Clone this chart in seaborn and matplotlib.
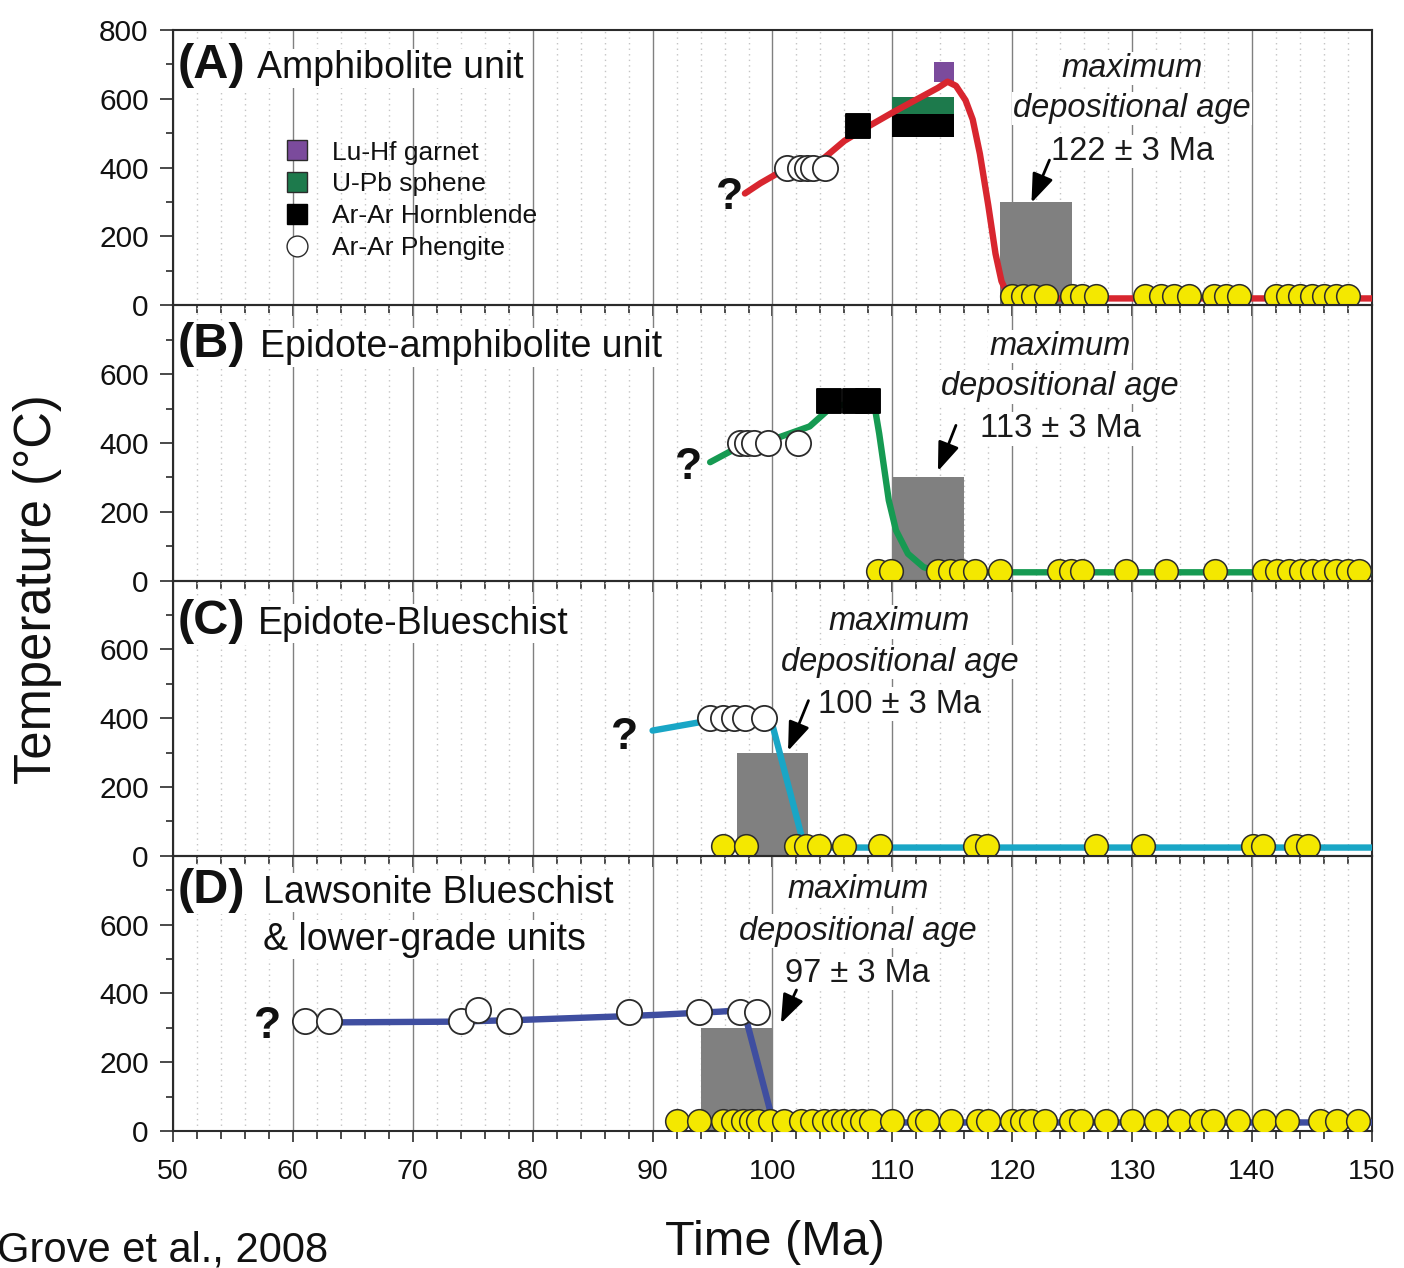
import matplotlib.pyplot as plt
from matplotlib.lines import Line2D
from matplotlib.ticker import MultipleLocator, FixedLocator
import seaborn as sns

# ---- values (time in Ma, temperature in deg C) ----
panel_tags = ['(A)', '(B)', '(C)', '(D)']
panel_titles = [['Amphibolite unit'], ['Epidote-amphibolite unit'], ['Epidote-Blueschist'],
                ['Lawsonite Blueschist', '& lower-grade units']]
line_colors = ['#d8262f', '#169a52', '#19a6c6', '#3f4ea0']

# cooling paths
path_t_A = [97.7, 99.0, 100.5, 102.5, 104.2, 106.0, 108.0, 110.0, 112.0, 113.8, 114.6,
            115.3, 116.1, 116.7, 117.3, 118.0, 118.6, 119.1, 119.6, 120.3, 150.0]
path_T_A = [325, 355, 385, 405, 425, 478, 520, 560, 598, 632, 650,
            638, 596, 540, 440, 290, 150, 70, 32, 20, 20]
path_t_B = [94.8, 97.0, 100.6, 103.1, 104.9, 106.5, 108.5, 108.9, 109.3, 109.7, 110.3,
            111.3, 112.6, 114.0, 150.0]
path_T_B = [344, 385, 417, 448, 504, 515, 510, 427, 330, 233, 146, 78, 39, 24, 24]
path_t_C = [90.0, 93.9, 96.0, 98.0, 99.9, 102.6, 103.3, 150.0]
path_T_C = [364, 388, 395, 398, 393, 34, 24, 24]
path_t_D = [61.0, 64.0, 73.6, 79.0, 87.1, 90.5, 95.6, 97.6, 99.8, 100.2, 150.0]
path_T_D = [318, 316, 318, 323, 333, 338, 347, 352, 60, 25, 25]

# Ar-Ar phengite
phengite_t_A = [101.2, 102.3, 102.9, 103.4, 104.4]
phengite_T_A = [400, 400, 400, 400, 400]
phengite_t_B = [97.3, 97.9, 98.5, 99.6, 102.1]
phengite_T_B = [400, 400, 400, 400, 400]
phengite_t_C = [94.8, 95.9, 96.8, 97.7, 99.3]
phengite_T_C = [400, 400, 400, 400, 400]
phengite_t_D = [61.0, 63.0, 74.0, 75.4, 78.0, 88.0, 93.9, 97.3, 98.7]
phengite_T_D = [320, 320, 320, 352, 320, 346, 346, 346, 346]

# Ar-Ar hornblende (single ages) and age/temperature boxes
hornblende_t_A = [107.1]
hornblende_T_A = [522]
hornblende_t_B = [104.7, 106.9, 108.0]
hornblende_T_B = [522, 522, 522]
hornblende_box_A = [110.0, 115.1, 488, 558]   # t_min, t_max, T_min, T_max
sphene_box_A = [110.0, 115.1, 555, 605]
garnet_t_A = [114.3]
garnet_T_A = [678]

# detrital zircon ages (yellow)
zircon_t_A = [120.0, 120.9, 121.7, 122.8, 125.0, 125.8, 127.0, 131.1, 132.4, 133.5, 134.7,
              136.8, 137.8, 138.9, 142.0, 143.0, 144.0, 145.0, 146.0, 147.0, 148.0]
zircon_t_B = [108.8, 109.9, 113.8, 114.8, 115.7, 116.9, 119.0, 123.9, 124.9, 125.8, 129.5,
              132.8, 136.9, 141.0, 142.1, 143.1, 144.1, 145.0, 146.0, 147.0, 148.0, 148.9]
zircon_t_C = [95.9, 97.8, 102.0, 102.8, 103.9, 106.0, 109.0, 116.9, 117.9, 127.0, 130.9,
              140.1, 140.9, 143.7, 144.7]
zircon_t_D = [92.0, 93.9, 95.9, 96.7, 97.5, 98.2, 98.8, 99.8, 101.0, 102.4, 103.3, 104.3,
              105.1, 105.9, 106.7, 107.5, 108.2, 110.0, 112.2, 112.9, 114.9, 117.1, 118.0,
              120.0, 120.8, 121.6, 122.7, 124.9, 125.7, 127.8, 130.0, 132.0, 133.9, 135.7,
              136.7, 138.8, 141.0, 142.9, 145.7, 147.1, 148.8]
zircon_T = 28

# maximum depositional age (Ma) +- error, box height
dep_age = [122, 113, 100, 97]
dep_err = 3
dep_box_T = 300

# ---- annotation layout (data coordinates) ----
question_xy = [(96.4, 314), (93.0, 329), (87.7, 345), (57.9, 303)]
tag_x = 50.4
title_x = [57.0, 57.25, 57.1, 57.5]
title_y = [[660], [649], [646], [663, 527]]
dep_text_x = [130.0, 124.0, 110.6, 107.1]
dep_text_y = [[663, 547, 422], [655, 538, 416], [655, 538, 416], [678, 556, 433]]
arrow_from = [(123.1, 422), (115.3, 451), (103.0, 451), (102.0, 410)]
arrow_to = [(121.6, 298), (113.8, 318), (101.3, 305), (100.7, 313)]

paths = [(path_t_A, path_T_A), (path_t_B, path_T_B), (path_t_C, path_T_C), (path_t_D, path_T_D)]
phengites = [(phengite_t_A, phengite_T_A), (phengite_t_B, phengite_T_B),
             (phengite_t_C, phengite_T_C), (phengite_t_D, phengite_T_D)]
zircons = [zircon_t_A, zircon_t_B, zircon_t_C, zircon_t_D]

sns.set_theme(style='white')
plt.rcParams['font.family'] = ['Liberation Sans', 'DejaVu Sans']
plt.rcParams['text.color'] = '#111111'
plt.rcParams['xtick.color'] = '#111111'
plt.rcParams['ytick.color'] = '#111111'

fig, axes = plt.subplots(4, 1, figsize=(14.04, 12.68), dpi=100, sharex=True)
fig.subplots_adjust(left=0.1232, right=0.9772, top=0.9763, bottom=0.108, hspace=0)

white_box = dict(facecolor='white', edgecolor='none', pad=1)
edge = '#2b2b2b'

for i, ax in enumerate(axes):
    ax.patch.set_alpha(0)
    ax.set_xlim(50, 150)
    ax.set_ylim(0, 800)
    ax.set_axisbelow(True)

    # depositional age box
    ax.bar(dep_age[i], dep_box_T, width=2 * dep_err, bottom=0, color='#808080',
           edgecolor='none', zorder=1.5)

    # cooling path
    t, T = paths[i]
    sns.lineplot(x=t, y=T, ax=ax, color=line_colors[i], linewidth=4.6, sort=False,
                 estimator=None, zorder=3, legend=False)

    if i == 0:
        for box, col in [(hornblende_box_A, 'black'), (sphene_box_A, '#1d7a4c')]:
            ax.bar(box[0], box[3] - box[2], width=box[1] - box[0], bottom=box[2],
                   align='edge', color=col, edgecolor='none', zorder=2)
        sns.scatterplot(x=garnet_t_A, y=garnet_T_A, ax=ax, marker='s', s=190,
                        color='#7b4b9c', edgecolor='none', zorder=2.5, legend=False)
        sns.scatterplot(x=hornblende_t_A, y=hornblende_T_A, ax=ax, marker='s', s=290,
                        color='black', edgecolor='black', zorder=4, legend=False)
    if i == 1:
        sns.scatterplot(x=hornblende_t_B, y=hornblende_T_B, ax=ax, marker='s', s=290,
                        color='black', edgecolor='black', zorder=4, legend=False)

    pt, pT = phengites[i]
    sns.scatterplot(x=pt, y=pT, ax=ax, marker='o', s=330, color='white',
                    edgecolor=edge, linewidth=1.3, zorder=5, legend=False)

    sns.scatterplot(x=zircons[i], y=[zircon_T] * len(zircons[i]), ax=ax, marker='o',
                    s=290, color='#f4e800', edgecolor=edge, linewidth=1.1, zorder=6,
                    legend=False)

    # annotations
    ax.text(*question_xy[i], '?', fontsize=32, fontweight='bold', ha='center',
            va='center', zorder=7)
    ax.text(tag_x, title_y[i][0], panel_tags[i], fontsize=35, fontweight='bold',
            ha='left', va='baseline', bbox=white_box, zorder=7)
    for line, y in zip(panel_titles[i], title_y[i]):
        ax.text(title_x[i], y, line, fontsize=27, ha='left', va='baseline',
                bbox=white_box, zorder=7)
    dep_lines = ['maximum', 'depositional age', f'{dep_age[i]} \u00b1 {dep_err} Ma']
    for k, (line, y) in enumerate(zip(dep_lines, dep_text_y[i])):
        ax.text(dep_text_x[i], y, line, fontsize=23.5, ha='center', va='baseline',
                style='italic' if k < 2 else 'normal', color='#1a1a1a',
                bbox=white_box, zorder=7)
    ax.annotate('', xy=arrow_to[i], xytext=arrow_from[i], zorder=7,
                arrowprops=dict(arrowstyle='-|>,head_length=0.8,head_width=0.3',
                                color='black', lw=2.0, mutation_scale=22,
                                shrinkA=0, shrinkB=0))

    # axes styling
    ax.xaxis.set_major_locator(MultipleLocator(10))
    ax.xaxis.set_minor_locator(MultipleLocator(2))
    ax.yaxis.set_major_locator(FixedLocator([0, 200, 400, 600, 800] if i == 0
                                            else [0, 200, 400, 600]))
    ax.yaxis.set_minor_locator(FixedLocator([100, 300, 500, 700]))
    ax.grid(which='major', axis='x', color='#808080', linewidth=1.0)
    ax.grid(which='minor', axis='x', color='#c4c4c4', linewidth=1.0, linestyle=(0, (1, 3)))
    ax.grid(which='major', axis='y', visible=False)
    ax.tick_params(axis='y', which='major', direction='out', length=9.5, width=1.2,
                   color=edge, labelsize=21.5, pad=8, left=True)
    ax.tick_params(axis='y', which='minor', direction='out', length=5, width=1.2,
                   color=edge, left=True)
    ax.tick_params(axis='x', which='major', direction='out', length=8, width=1.2,
                   color=edge, labelsize=20.5, pad=12, bottom=True)
    ax.tick_params(axis='x', which='minor', direction='out', length=5.5, width=1.2,
                   color=edge, bottom=True)
    for sp in ax.spines.values():
        sp.set_color(edge)
        sp.set_linewidth(1.5)
    ax.set_xlabel('')
    ax.set_ylabel('')

# legend in panel A
handles = [
    Line2D([], [], marker='s', linestyle='none', markersize=14, markerfacecolor='#7b4b9c',
           markeredgecolor=edge, label='Lu-Hf garnet'),
    Line2D([], [], marker='s', linestyle='none', markersize=14, markerfacecolor='#1d7a4c',
           markeredgecolor=edge, label='U-Pb sphene'),
    Line2D([], [], marker='s', linestyle='none', markersize=14, markerfacecolor='black',
           markeredgecolor='black', label='Ar-Ar Hornblende'),
    Line2D([], [], marker='o', linestyle='none', markersize=15, markerfacecolor='white',
           markeredgecolor=edge, label='Ar-Ar Phengite'),
]
axes[0].legend(handles=handles, loc='upper left', bbox_to_anchor=(0.0845, 0.637),
               frameon=False, fontsize=19, handlelength=0.95, handletextpad=0.85,
               borderpad=0.4, borderaxespad=0, labelspacing=0.3)

fig.text(0.552, 0.0103, 'Time (Ma)', fontsize=35, ha='center', va='baseline')
fig.text(0.027, 0.535, 'Temperature (\u00b0C)', fontsize=36.5, rotation=90,
         ha='center', va='center')
fig.text(-0.002, 0.005, 'Grove et al., 2008', fontsize=30, ha='left', va='baseline')

fig.savefig('out.png', dpi=100, facecolor='white')
